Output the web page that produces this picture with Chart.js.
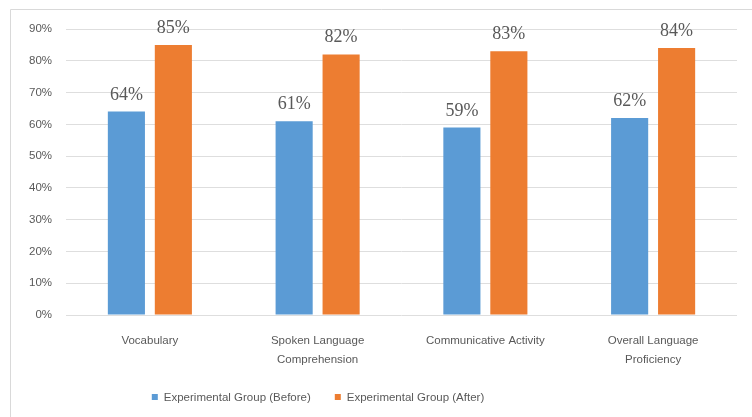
<!DOCTYPE html>
<html>
<head>
<meta charset="utf-8">
<script src="https://cdn.jsdelivr.net/npm/chart.js@4"></script>
<style>
  html, body { margin: 0; padding: 0; background: #fff; }
  #wrap { width: 752px; height: 417px; position: relative; }
</style>
</head>
<body>
<div id="wrap"><canvas id="bars" width="752" height="417"></canvas></div>
<script>
const categories = [
  "Vocabulary",
  ["Spoken Language", "Comprehension"],
  "Communicative Activity",
  ["Overall Language", "Proficiency"],
];
const seriesNames = ["Experimental Group (Before)", "Experimental Group (After)"];
const before = [64, 61, 59, 62];
const after = [85, 82, 83, 84];
const colors = ["#5b9bd5", "#ed7d31"];

const sans = "'Liberation Sans', Arial, sans-serif";

// frame + value labels + legend, drawn on top of the bars
const decorations = {
  id: "decorations",
  beforeDraw(chart) {
    const ctx = chart.ctx;
    ctx.save();
    ctx.strokeStyle = "#d9d9d9";
    ctx.lineWidth = 1;
    ctx.beginPath();
    ctx.moveTo(10.5, 417);
    ctx.lineTo(10.5, 9.5);
    ctx.lineTo(752, 9.5);
    ctx.stroke();
    ctx.restore();
  },
  afterDatasetsDraw(chart) {
    const ctx = chart.ctx;
    ctx.save();
    ctx.font = "18px 'Liberation Serif', 'Times New Roman', serif";
    ctx.fillStyle = "#595959";
    ctx.textAlign = "center";
    ctx.textBaseline = "alphabetic";
    chart.data.datasets.forEach((ds, i) => {
      chart.getDatasetMeta(i).data.forEach((bar, j) => {
        ctx.fillText(ds.data[j] + "%", bar.x, bar.y - 12);
      });
    });

    // legend
    ctx.font = "11.5px " + sans;
    ctx.textAlign = "left";
    ctx.textBaseline = "middle";
    const box = 6, gap = 6, spacing = 24, cy = 397;
    const widths = chart.data.datasets.map(ds => box + gap + ctx.measureText(ds.label).width);
    const total = widths.reduce((a, b) => a + b, 0) + spacing * (widths.length - 1);
    let x = 318 - total / 2;
    chart.data.datasets.forEach((ds, i) => {
      ctx.fillStyle = ds.backgroundColor;
      ctx.fillRect(x, cy - box / 2, box, box);
      ctx.fillStyle = "#595959";
      ctx.fillText(ds.label, x + box + gap, cy + 1);
      x += widths[i] + spacing;
    });
    ctx.restore();
  },
};

new Chart(document.getElementById("bars"), {
  type: "bar",
  data: {
    labels: categories,
    datasets: [
      { label: seriesNames[0], data: before, backgroundColor: colors[0] },
      { label: seriesNames[1], data: after, backgroundColor: colors[1] },
    ],
  },
  options: {
    responsive: false,
    animation: false,
    categoryPercentage: 0.56,
    barPercentage: 0.79,
    layout: { padding: { top: 29, left: 10, right: 15, bottom: 42 } },
    plugins: {
      legend: { display: false },
      tooltip: { enabled: false },
    },
    scales: {
      x: {
        grid: { display: false },
        border: { display: false },
        ticks: {
          color: "#595959",
          font: { family: sans, size: 11.5, lineHeight: 1.65 },
          padding: 8,
          maxRotation: 0,
          autoSkip: false,
        },
        afterFit(scale) { scale.height = 60; },
      },
      y: {
        min: 0,
        max: 90,
        ticks: {
          stepSize: 10,
          color: "#595959",
          font: { family: sans, size: 11.5 },
          padding: 14,
          callback: v => v + "%",
        },
        grid: { color: "#dedede", drawTicks: false },
        border: { display: false },
        afterFit(scale) { scale.width = 56; },
      },
    },
  },
  plugins: [decorations],
});
</script>
</body>
</html>
